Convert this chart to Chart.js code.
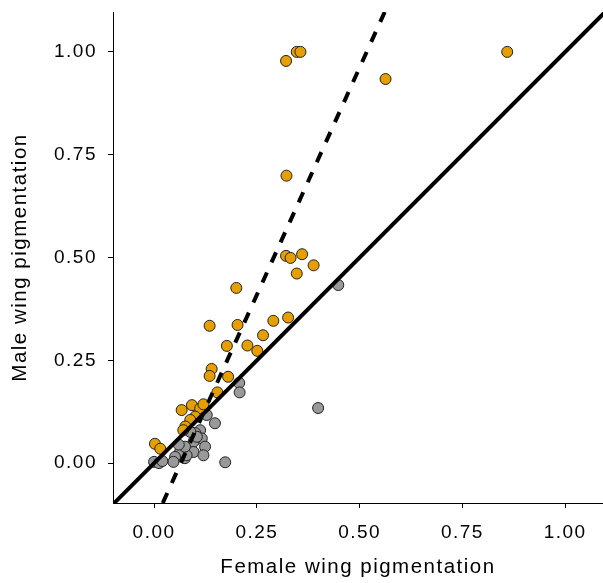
<!DOCTYPE html>
<html>
<head>
<meta charset="utf-8">
<script src="https://cdn.jsdelivr.net/npm/chart.js@4.4.1/dist/chart.umd.min.js"></script>
<style>
  html, body { margin: 0; padding: 0; background: #fff; }
</style>
</head>
<body>
<canvas id="chart" width="603" height="583"></canvas>
<script>
// species with pigmented wings (orange) — female x, male y
const orangeFemale = [0.859, 0.347, 0.356, 0.321, 0.563, 0.322, 0.321, 0.332, 0.360, 0.388, 0.347,
  0.200, 0.135, 0.203, 0.290, 0.326, 0.265, 0.177, 0.227, 0.251, 0.140, 0.135, 0.180, 0.154,
  0.067, 0.092, 0.112, 0.120, 0.100, 0.088, 0.076, 0.071, 0.002, 0.015];
const orangeMale = [1.000, 1.000, 1.000, 0.978, 0.934, 0.699, 0.504, 0.499, 0.508, 0.481, 0.461,
  0.426, 0.334, 0.336, 0.346, 0.354, 0.311, 0.285, 0.286, 0.273, 0.229, 0.212, 0.210, 0.172,
  0.129, 0.141, 0.133, 0.143, 0.113, 0.105, 0.089, 0.080, 0.047, 0.035];

// unpigmented species (grey)
const greyFemale = [0.448, 0.399, 0.207, 0.208, 0.128, 0.148, 0.112, 0.100, 0.116, 0.096, 0.124,
  0.096, 0.120, 0.075, 0.070, 0.079, 0.063, 0.075, 0.051, 0.047, 0.173, 0.000, 0.012, 0.020,
  0.104, 0.088, 0.060];
const greyMale = [0.433, 0.134, 0.195, 0.172, 0.117, 0.097, 0.080, 0.073, 0.060, 0.052, 0.040,
  0.027, 0.019, 0.012, 0.032, 0.019, 0.027, 0.040, 0.015, 0.003, 0.002, 0.003, 0.000, 0.005,
  0.064, 0.076, 0.045];

// reference lines (end points)
const identityX = [-0.1, 1.1];
const identityY = [-0.1, 1.1];
const fitX = [0.021, 0.561];
const fitY = [-0.097, 1.097];

const xTicks = [0, 0.25, 0.5, 0.75, 1];
const yTicks = [0, 0.25, 0.5, 0.75, 1];

const pairs = (xs, ys) => xs.map((x, i) => ({ x: x, y: ys[i] }));

const FONT = 'Liberation Sans, Helvetica, Arial, sans-serif';

// the original text is set a little looser than the canvas default
const spacing = {
  id: 'spacing',
  beforeDraw(chart) { chart.ctx.letterSpacing = '1.5px'; }
};

new Chart(document.getElementById('chart').getContext('2d'), {
  type: 'scatter',
  plugins: [spacing],
  data: {
    datasets: [
      {
        type: 'line',
        label: 'fit',
        data: pairs(fitX, fitY),
        borderColor: '#000',
        borderWidth: 4,
        borderDash: [11, 11],
        pointRadius: 0,
        order: 0
      },
      {
        type: 'line',
        label: '1:1',
        data: pairs(identityX, identityY),
        borderColor: '#000',
        borderWidth: 4,
        pointRadius: 0,
        order: 0
      },
      {
        label: 'pigmented',
        data: pairs(orangeFemale, orangeMale),
        backgroundColor: '#E69F00',
        borderColor: '#222',
        borderWidth: 1,
        pointRadius: 5.5,
        order: 1
      },
      {
        label: 'unpigmented',
        data: pairs(greyFemale, greyMale),
        backgroundColor: '#999999',
        borderColor: '#222',
        borderWidth: 1,
        pointRadius: 5.5,
        order: 2
      }
    ]
  },
  options: {
    responsive: false,
    animation: false,
    layout: { autoPadding: false, padding: { top: 12, right: 0, left: 0, bottom: 0 } },
    plugins: { legend: { display: false }, tooltip: { enabled: false } },
    scales: {
      x: {
        type: 'linear',
        min: -0.1,
        max: 1.092,
        afterBuildTicks: s => { s.ticks = xTicks.map(v => ({ value: v })); },
        afterFit: s => { s.height = 80; s.paddingLeft = 0; s.paddingRight = 0; },
        border: { display: true, color: '#000', width: 1 },
        grid: { display: true, drawOnChartArea: false, drawTicks: true, tickLength: 5, color: '#000' },
        ticks: {
          color: '#000',
          padding: 13,
          maxRotation: 0,
          font: { family: FONT, size: 19 },
          callback: v => v.toFixed(2)
        },
        title: {
          display: true,
          text: 'Female wing pigmentation',
          color: '#000',
          font: { family: FONT, size: 20.5 },
          padding: { top: 0, bottom: 3 }
        }
      },
      y: {
        type: 'linear',
        min: -0.097,
        max: 1.097,
        afterBuildTicks: s => { s.ticks = yTicks.map(v => ({ value: v })); },
        afterFit: s => { s.width = 113; s.paddingTop = 0; s.paddingBottom = 0; },
        border: { display: true, color: '#000', width: 1 },
        grid: { display: true, drawOnChartArea: false, drawTicks: true, tickLength: 5, color: '#000' },
        ticks: {
          color: '#000',
          padding: 11,
          font: { family: FONT, size: 19 },
          callback: v => v.toFixed(2)
        },
        title: {
          display: true,
          text: 'Male wing pigmentation',
          color: '#000',
          font: { family: FONT, size: 20.5 },
          padding: { top: 8, bottom: 0 }
        }
      }
    }
  }
});
</script>
</body>
</html>
